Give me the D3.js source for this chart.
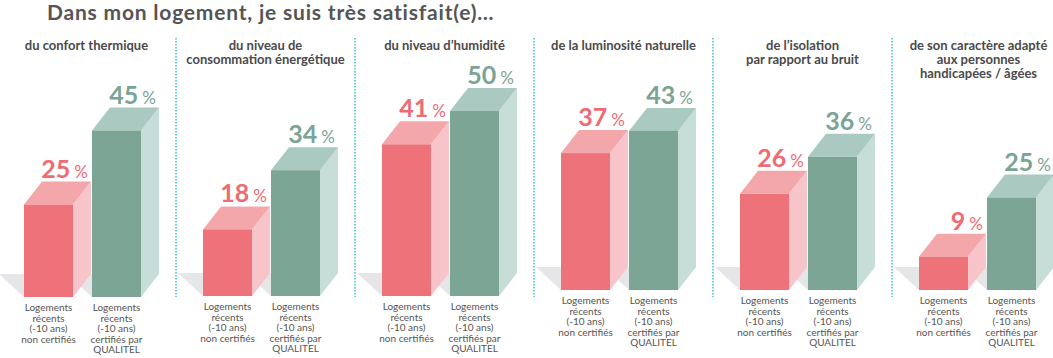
<!DOCTYPE html>
<html><head><meta charset="utf-8">
<script src="https://cdn.jsdelivr.net/npm/d3@7"></script>
<style>
html,body{margin:0;padding:0;background:#fff;}
svg{display:block;font-family:Lato, "Noto Sans", sans-serif;}
</style></head>
<body>
<svg id="chart" width="1053" height="358"></svg>
<script>
// ---- data ----
const title = "Dans mon logement, je suis très satisfait(e)…";
const categories = [
  "du confort thermique",
  "du niveau de|consommation énergétique",
  "du niveau d’humidité",
  "de la luminosité naturelle",
  "de l’isolation|par rapport au bruit",
  "de son caractère adapté|aux personnes|handicapées / âgées"
];
const seriesNames = ["non certifiés", "certifiés QUALITEL"];
const nonCertifies = [25, 18, 41, 37, 26, 9];
const certifiesQualitel = [45, 34, 50, 43, 36, 25];
const seriesLabels = [
  ["Logements", "récents", "(-10 ans)", "non certifiés"],
  ["Logements", "récents", "(-10 ans)", "certifiés par", "QUALITEL"]
];

// ---- layout ----
const W = 1053, H = 358;
const panelFloor = [297, 296, 296, 290, 290, 290];
const barW = 49, dx = 18, dy = 23;
const colors = [
  {front: "#ee7279", top: "#f4a7ab", side: "#f7c5c9", text: "#ee6b73"},
  {front: "#7ca596", top: "#aac9c0", side: "#c7ddd7", text: "#7aa495"}
];

const svg = d3.select("#chart");
const x = d3.scaleBand().domain(categories).range([-3, 1071]).paddingInner(0).paddingOuter(0);
const sx = d3.scaleBand().domain(seriesNames).range([27, 27 + 68 * 2]).paddingInner(0);
const y = d3.scaleLinear().domain([0, 50]).range([0, 185]);

svg.append("text").attr("x", 47).attr("y", 20)
  .attr("font-size", 21).attr("font-weight", 700).attr("fill", "#555")
  .attr("letter-spacing", 0.8)
  .text(title);

// dividers
svg.selectAll("line.div").data(categories.slice(1)).join("line")
  .attr("x1", d => x(d)).attr("x2", d => x(d))
  .attr("y1", 38).attr("y2", 297)
  .attr("stroke", "#39bfd5").attr("stroke-width", 1.5)
  .attr("stroke-dasharray", "1.5,1.5");

const panels = svg.selectAll("g.panel").data(categories).join("g")
  .attr("class", "panel")
  .attr("transform", d => `translate(${x(d)},0)`);

panels.each(function(cat, i) {
  const g = d3.select(this);
  const lines = cat.split("|");
  const t = g.append("text").attr("text-anchor", "middle")
    .attr("font-size", 13).attr("font-weight", 700).attr("fill", "#4a4a4a");
  lines.forEach((l, k) => {
    t.append("tspan").attr("x", x.bandwidth() / 2 - (i === 5 ? 3 : 0)).attr("y", 49.5 + k * 14).text(l);
  });

  const floor = panelFloor[i];
  const vals = [nonCertifies[i], certifiesQualitel[i]];
  // shadows first
  vals.forEach((v, s) => {
    const x0 = sx(seriesNames[s]);
    g.append("polygon")
      .attr("points", [[x0 - 25, floor - dy], [x0 + barW, floor - dy], [x0 + barW, floor], [x0, floor]].join(" "))
      .attr("fill", "#e6e6e8");
  });
  vals.forEach((v, s) => {
    const x0 = sx(seriesNames[s]);
    const h = y(v);
    const top = floor - h;
    const c = colors[s];
    g.append("polygon")
      .attr("points", [[x0 + barW, top], [x0 + barW + dx, top - dy], [x0 + barW + dx, floor - dy], [x0 + barW, floor]].join(" "))
      .attr("fill", c.side);
    g.append("polygon")
      .attr("points", [[x0, top], [x0 + dx, top - dy], [x0 + barW + dx, top - dy], [x0 + barW, top]].join(" "))
      .attr("fill", c.top);
    g.append("rect").attr("x", x0).attr("y", top).attr("width", barW).attr("height", h)
      .attr("fill", c.front);
    const lbl = g.append("text").attr("text-anchor", "end")
      .attr("x", x0 + barW + dx - 3).attr("y", top - dy - 4).attr("fill", c.text);
    lbl.append("tspan").attr("font-size", 25).attr("font-weight", 700).text(v);
    lbl.append("tspan").attr("font-size", 17).attr("font-weight", 400).attr("dx", 4).text("%");

    const bl = g.append("text").attr("text-anchor", "middle")
      .attr("font-size", 10).attr("fill", "#555");
    seriesLabels[s].forEach((l, k) => {
      bl.append("tspan").attr("x", x0 + barW / 2).attr("y", floor + 14 + k * 10.5).text(l);
    });
  });
});
</script>
</body></html>
